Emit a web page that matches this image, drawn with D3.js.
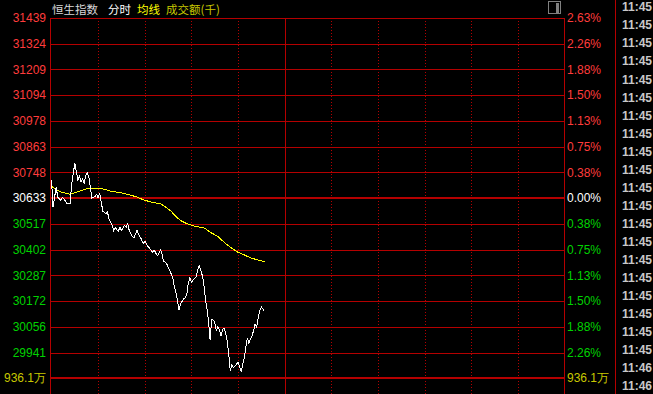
<!DOCTYPE html>
<html>
<head>
<meta charset="utf-8">
<script src="https://cdn.jsdelivr.net/npm/d3@7"></script>
<style>
html, body { margin: 0; padding: 0; background: #000; overflow: hidden; }
svg { display: block; }
</style>
</head>
<body>
<svg id="chart" width="653" height="394"></svg>
<script>
// previous close and price / percent ticks (top to bottom)
const prevClose = 30633;
const priceTicks = [31439, 31324, 31209, 31094, 30978, 30863, 30748, 30633, 30517, 30402, 30287, 30172, 30056, 29941];
const pctTicks = ["2.63%", "2.26%", "1.88%", "1.50%", "1.13%", "0.75%", "0.38%", "0.00%", "0.38%", "0.75%", "1.13%", "1.50%", "1.88%", "2.26%"];
const volumeLabel = "936.1万";
const headerLabels = ["恒生指数", "分时", "均线", "成交额(千)"];

// minutes after 09:30 and index level
const priceMinutes = [0, 1, 3, 4, 6, 7, 8, 10, 12, 13, 14, 15, 17, 18, 19, 20, 21, 22, 23, 24,
	25, 26, 28, 29, 30, 31, 32, 33, 35, 36, 37, 39, 40, 41, 43, 44, 45, 47, 48, 49,
	50, 52, 53, 55, 56, 58, 59, 60, 62, 64, 65, 66, 68, 69, 70, 71, 72, 74, 75, 77,
	78, 79, 80, 81, 82, 83, 85, 86, 87, 88, 89, 90, 91, 92, 93, 94, 95, 96, 97, 98,
	99, 100, 101, 102, 103, 104, 105, 106, 107, 108, 109, 110, 111, 112, 113, 114, 115, 116, 117, 118,
	119, 120, 121, 122, 123, 124, 125, 126, 127, 128, 129, 130, 131, 132, 133, 134, 135, 136, 137];
const prices = [30715, 30592, 30682, 30637, 30622, 30637, 30630, 30607, 30610, 30697, 30742, 30790, 30712, 30730, 30704, 30720, 30697, 30735, 30745, 30727,
	30682, 30633, 30640, 30649, 30634, 30655, 30615, 30574, 30562, 30570, 30540, 30510, 30488, 30500, 30484, 30502, 30488, 30510, 30502, 30518,
	30488, 30461, 30455, 30488, 30470, 30446, 30428, 30440, 30416, 30401, 30390, 30401, 30375, 30383, 30401, 30386, 30350, 30341, 30323, 30293,
	30275, 30236, 30210, 30176, 30131, 30158, 30181, 30185, 30200, 30251, 30275, 30255, 30266, 30271, 30281, 30308, 30330, 30311, 30286, 30248,
	30181, 30136, 30083, 29997, 30087, 30087, 30076, 30039, 30056, 30042, 30016, 30042, 30051, 30031, 29994, 29934, 29859, 29886, 29874, 29881,
	29889, 29896, 29877, 29856, 29886, 29919, 29964, 30006, 29982, 30001, 30016, 30039, 30069, 30056, 30098, 30128, 30146, 30136, 30125];

const avgMinutes = [0, 3, 6, 9, 12, 15, 19, 22, 25, 28, 32, 35, 38, 44, 50, 55, 59, 64, 70, 73,
	77, 80, 83, 87, 93, 98, 102, 107, 111, 115, 120, 124, 128, 132, 137];
const avgPrices = [30685, 30670, 30660, 30655, 30650, 30657, 30666, 30673, 30677, 30677, 30675, 30670, 30664, 30657, 30648, 30637, 30625, 30615, 30607, 30595,
	30573, 30550, 30532, 30518, 30505, 30500, 30480, 30461, 30435, 30413, 30390, 30378, 30365, 30357, 30348];

// tick list on the far right
const tradeTimes = ["11:45", "11:45", "11:45", "11:45", "11:45", "11:45", "11:45", "11:45", "11:45", "11:45", "11:45",
	"11:45", "11:45", "11:45", "11:45", "11:45", "11:45", "11:45", "11:45", "11:45", "11:46", "11:46"];

const W = 653, H = 394;
const plotLeft = 50, plotRight = 564, plotTop = 18, plotBottom = 378, divider = 615;
const gridColor = "#b40000";
const upColor = "#ff3c3c", downColor = "#00d200", flatColor = "#ffffff";
const numFont = "'Liberation Sans', Arial, sans-serif";
const cjkFont = "'Noto Sans CJK SC', 'Liberation Sans', sans-serif";

const svg = d3.select("#chart");
svg.append("rect").attr("width", W).attr("height", H).attr("fill", "#000");

const x = d3.scaleLinear().domain([0, 330]).range([plotLeft + 1.5, plotRight + 0.5]);
const y = d3.scaleLinear().domain([2 * prevClose - priceTicks[0], priceTicks[0]]).range([plotBottom, plotTop]);
const snap = v => Math.round(v) + 0.5;

// horizontal grid
const grid = svg.append("g").attr("shape-rendering", "crispEdges");
grid.selectAll("line.h")
	.data(priceTicks)
	.enter().append("line")
	.attr("class", "h")
	.attr("x1", plotLeft).attr("x2", plotRight + 1)
	.attr("y1", d => d === prevClose ? Math.round(y(d)) : snap(y(d)))
	.attr("y2", d => d === prevClose ? Math.round(y(d)) : snap(y(d)))
	.attr("stroke", gridColor)
	.attr("stroke-width", d => d === prevClose ? 2 : 1);
grid.append("line")
	.attr("x1", plotLeft).attr("x2", plotRight + 1)
	.attr("y1", plotBottom).attr("y2", plotBottom)
	.attr("stroke", gridColor).attr("stroke-width", 2);

// vertical half-hour lines
const halfHours = d3.range(30, 330, 30);
grid.selectAll("line.v")
	.data(halfHours)
	.enter().append("line")
	.attr("class", "v")
	.attr("x1", d => snap(x(d))).attr("x2", d => snap(x(d)))
	.attr("y1", plotTop).attr("y2", H)
	.attr("stroke", gridColor)
	.attr("stroke-dasharray", d => d === 150 ? null : "1,2");

// frame
[plotLeft, plotRight].forEach(px => {
	grid.append("line")
		.attr("x1", px + 0.5).attr("x2", px + 0.5)
		.attr("y1", plotTop).attr("y2", H)
		.attr("stroke", gridColor);
});
grid.append("line")
	.attr("x1", divider + 0.5).attr("x2", divider + 0.5)
	.attr("y1", 0).attr("y2", H)
	.attr("stroke", gridColor);

// axis labels
const labelColor = v => v > prevClose ? upColor : (v < prevClose ? downColor : flatColor);
svg.append("g")
	.selectAll("text")
	.data(priceTicks)
	.enter().append("text")
	.attr("x", plotLeft - 4)
	.attr("y", d => y(d))
	.attr("dy", "0.36em")
	.attr("text-anchor", "end")
	.attr("font-family", numFont)
	.attr("font-size", 12)
	.attr("fill", labelColor)
	.text(d => d);
svg.append("g")
	.selectAll("text")
	.data(priceTicks)
	.enter().append("text")
	.attr("x", plotRight + 3)
	.attr("y", d => y(d))
	.attr("dy", "0.36em")
	.attr("font-family", numFont)
	.attr("font-size", 12)
	.attr("fill", labelColor)
	.text((d, i) => pctTicks[i]);

svg.append("text")
	.attr("x", plotLeft - 4).attr("y", plotBottom).attr("dy", "0.36em")
	.attr("text-anchor", "end")
	.attr("font-family", numFont).attr("font-size", 12)
	.attr("fill", "#c8c800")
	.text(volumeLabel);
svg.append("text")
	.attr("x", plotRight + 3).attr("y", plotBottom).attr("dy", "0.36em")
	.attr("font-family", numFont).attr("font-size", 12)
	.attr("fill", "#c8c800")
	.text(volumeLabel);

// header
const headerX = [52, 108, 137, 166];
const headerColors = ["#d8d8d8", "#ffffff", "#ffff00", "#c8c800"];
svg.append("g")
	.selectAll("text")
	.data(headerLabels)
	.enter().append("text")
	.attr("x", (d, i) => headerX[i])
	.attr("y", 13.5)
	.attr("font-family", cjkFont)
	.attr("font-size", 11.5)
	.attr("fill", (d, i) => headerColors[i])
	.text(d => d);

// small window button
svg.append("rect")
	.attr("x", 548.5).attr("y", 1.5).attr("width", 12).attr("height", 12)
	.attr("fill", "none").attr("stroke", "#808080");
svg.append("rect")
	.attr("x", 556).attr("y", 3).attr("width", 3).attr("height", 10)
	.attr("fill", "#808080");

// price and average lines
const priceData = priceMinutes.map((m, i) => ({ m: m, v: prices[i] }));
const avgData = avgMinutes.map((m, i) => ({ m: m, v: avgPrices[i] }));
const line = d3.line()
	.x(d => x(d.m))
	.y(d => y(d.v));

svg.append("path")
	.datum(avgData)
	.attr("d", line)
	.attr("fill", "none")
	.attr("stroke", "#ffff00")
	.attr("stroke-width", 1)
	.attr("shape-rendering", "crispEdges");
svg.append("path")
	.datum(priceData)
	.attr("d", line)
	.attr("fill", "none")
	.attr("stroke", "#ffffff")
	.attr("stroke-width", 1)
	.attr("shape-rendering", "crispEdges");

// tick list times
const rowY = d3.scaleLinear().domain([0, tradeTimes.length - 1]).range([7, 386]);
svg.append("g")
	.selectAll("text")
	.data(tradeTimes)
	.enter().append("text")
	.attr("x", 622)
	.attr("y", (d, i) => rowY(i))
	.attr("dy", "0.36em")
	.attr("font-family", numFont)
	.attr("font-size", 12)
	.attr("font-weight", "bold")
	.attr("fill", "#c8c8c8")
	.text(d => d);
</script>
</body>
</html>
